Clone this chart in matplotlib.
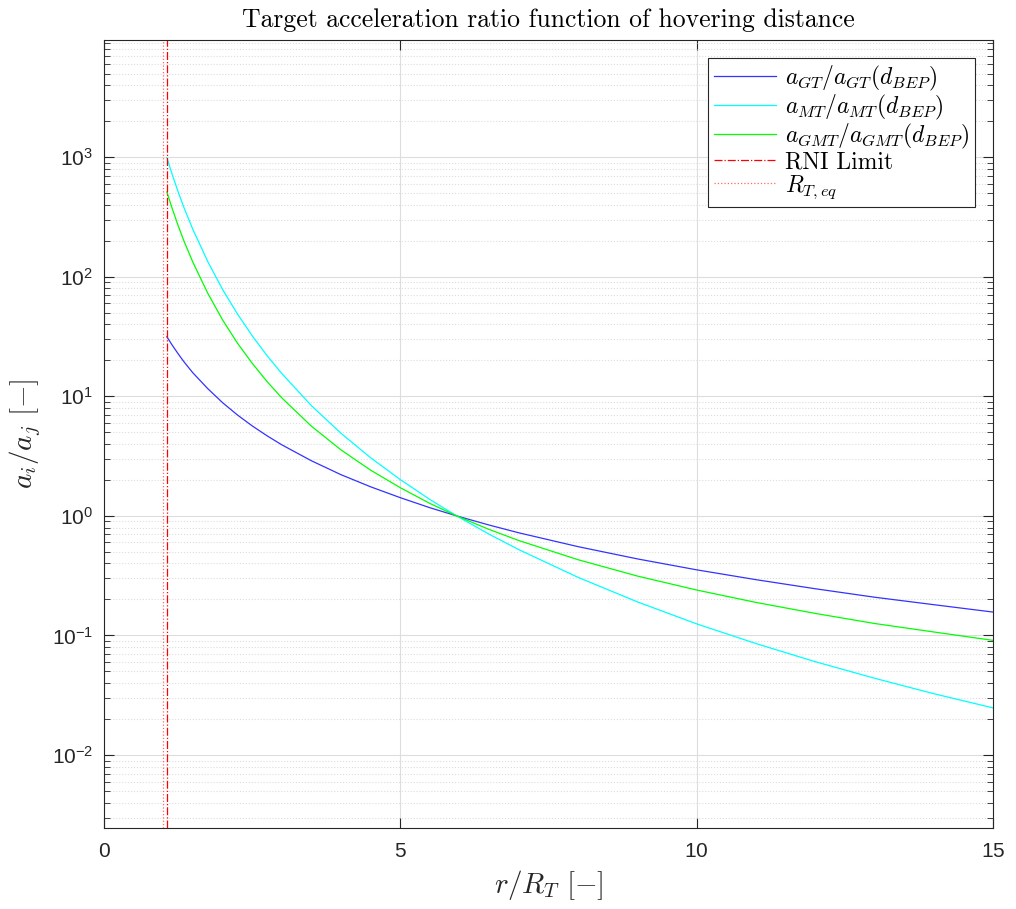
import numpy as np
import matplotlib
matplotlib.use('Agg')
import matplotlib.pyplot as plt

plt.rcParams['mathtext.fontset'] = 'cm'
plt.rcParams['font.family'] = 'Liberation Sans'
plt.rcParams['axes.formatter.use_mathtext'] = True

# r / R_T sample positions
r = [1.06, 1.15, 1.25, 1.35, 1.5, 1.75, 2.0, 2.25, 2.5, 2.75, 3.0, 3.5, 4.0, 4.5,
     5.0, 5.5, 5.95, 6.5, 7.0, 8.0, 9.0, 10.0, 11.0, 12.0, 13.0, 14.0, 15.0]

a_gt = [31.5, 26.8, 22.7, 19.4, 15.7, 11.6, 8.85, 6.99, 5.66, 4.68, 3.93, 2.89, 2.21, 1.75,
        1.42, 1.17, 1.0, 0.838, 0.722, 0.553, 0.437, 0.354, 0.293, 0.246, 0.209, 0.181, 0.157]

a_mt = [992, 717, 513, 377, 248, 134, 78.3, 48.9, 32.1, 21.9, 15.5, 8.35, 4.90, 3.06,
        2.01, 1.37, 1.0, 0.702, 0.522, 0.306, 0.191, 0.125, 0.0856, 0.0604, 0.0439, 0.0326, 0.0248]

a_gmt = [512, 372, 268, 198, 132, 72.8, 43.6, 27.9, 18.9, 13.3, 9.7, 5.62, 3.56, 2.41,
         1.72, 1.27, 1.0, 0.770, 0.622, 0.430, 0.314, 0.240, 0.189, 0.153, 0.126, 0.107, 0.091]

rni_limit = 1.063
r_t_eq = 1.0
y_lim = (10 ** -2.61, 10 ** 3.98)

fig = plt.figure(figsize=(10.16, 9.09), dpi=100)
ax = fig.add_axes([0.1024, 0.0891, 0.875, 0.8669])

ax.semilogy(r, a_gt, color='#3333ff', lw=0.9, label=r'$a_{GT}/a_{GT}(d_{BEP})$')
ax.semilogy(r, a_mt, color='#00ffff', lw=0.9, label=r'$a_{MT}/a_{MT}(d_{BEP})$')
ax.semilogy(r, a_gmt, color='#00ff00', lw=0.9, label=r'$a_{GMT}/a_{GMT}(d_{BEP})$')
ax.plot([rni_limit, rni_limit], y_lim, color='red', ls='-.', lw=0.9, label='RNI Limit')
ax.plot([r_t_eq, r_t_eq], y_lim, color='#ff6666', ls=':', lw=0.9, label=r'$R_{T,eq}$')

ax.set_xlim(0, 15)
ax.set_ylim(*y_lim)
ax.set_xticks([0, 5, 10, 15])

ax.grid(True, which='major', color='#dddddd', lw=0.8)
ax.grid(True, which='minor', axis='y', color='#dddddd', ls=':', lw=0.8)
ax.tick_params(which='both', direction='in', top=True, right=True, labelsize=15, colors='#262626')
ax.tick_params(which='major', length=7)
ax.tick_params(which='minor', length=4)
ax.tick_params(axis='x', pad=10)
ax.tick_params(axis='y', pad=8)
for s in ax.spines.values():
    s.set_color('#262626')

ax.set_xlabel(r'$r/R_T\ [-]$', fontsize=21, color='#262626', labelpad=5)
ax.set_ylabel(r'$a_i/a_j\ [-]$', fontsize=21, color='#262626', labelpad=6)
ax.set_title('Target acceleration ratio function of hovering distance',
             fontsize=18.5, fontname='cmr10', pad=9)

leg = ax.legend(loc='upper right', fancybox=False, framealpha=1,
                edgecolor='#262626', borderpad=0.25, labelspacing=0.0, handlelength=2.6,
                borderaxespad=0.75, handletextpad=0.4,
                prop={'family': 'cmr10', 'size': 17})
leg.get_frame().set_linewidth(0.8)

fig.savefig('out.png', dpi=100)
